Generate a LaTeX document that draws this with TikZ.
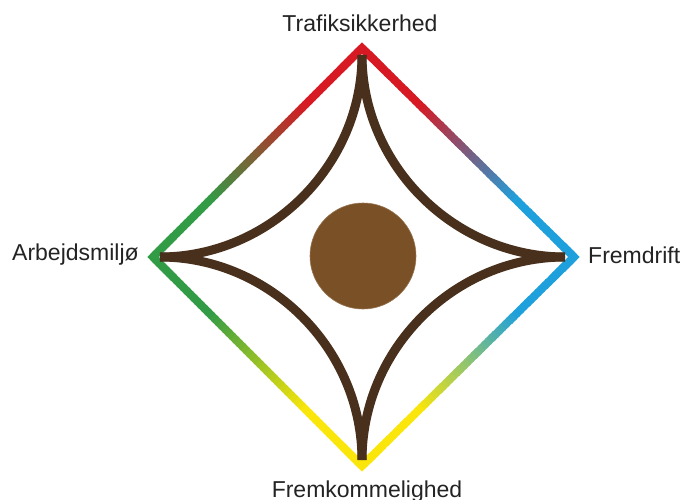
\documentclass[tikz,border=0pt]{standalone}
\usepackage{fontspec}
\setmainfont{Liberation Sans}
\usetikzlibrary{calc}
\definecolor{cred}{RGB}{215,25,35}
\definecolor{cblue}{RGB}{30,160,220}
\definecolor{cyellow}{RGB}{250,230,10}
\definecolor{cgreen}{RGB}{50,155,70}
\definecolor{cbrown}{RGB}{72,48,28}
\definecolor{cdot}{RGB}{122,80,38}
\definecolor{ctext}{RGB}{35,35,35}
\newcommand\gradEdge[4]{%
  \foreach \i in {0,...,59}{%
    \pgfmathsetmacro\ta{\i/60}%
    \pgfmathsetmacro\tb{min(1,(\i+1.4)/60)}%
    \pgfmathsetmacro\s{100*min(1,max(0,((\i+0.5)/60-0.27)/0.46))}%
    \colorlet{segc}{#4!\s!#3}%
    \draw[edgeline, segc] ($(#1)!\ta!(#2)$) -- ($(#1)!\tb!(#2)$);
  }%
}
\begin{document}
\begin{tikzpicture}[x=1pt,y=-1pt,
  lbl/.style={font=\fontsize{23}{27}\selectfont, inner sep=0pt, text=ctext},
  edgeline/.style={line width=8pt, line cap=butt},
  curveline/.style={line width=9pt, cbrown, line cap=butt}]
\useasboundingbox (0,0) rectangle (682,500);
% diamond vertices
\coordinate (T) at (362,48);
\coordinate (R) at (574,257);
\coordinate (B) at (362,466);
\coordinate (L) at (153,257);
% centre and spike tips
\coordinate (C) at (362,257);
\coordinate (sT) at (362,55);
\coordinate (sR) at (565,257);
\coordinate (sB) at (362,460);
\coordinate (sL) at (160,257);
% gradient edges
\gradEdge{T}{L}{cred}{cgreen}
\gradEdge{T}{R}{cred}{cblue}
\gradEdge{R}{B}{cblue}{cyellow}
\gradEdge{B}{L}{cyellow}{cgreen}
% sharp corners
\draw[edgeline, cred, line join=miter] ($(T)!0.1!(L)$) -- (T) -- ($(T)!0.1!(R)$);
\draw[edgeline, cblue, line join=miter] ($(R)!0.1!(T)$) -- (R) -- ($(R)!0.1!(B)$);
\draw[edgeline, cyellow, line join=miter] ($(B)!0.1!(R)$) -- (B) -- ($(B)!0.1!(L)$);
\draw[edgeline, cgreen, line join=miter] ($(L)!0.1!(B)$) -- (L) -- ($(L)!0.1!(T)$);
% inner concave star
\draw[curveline] (sT) .. controls ($(C)+(0,-92)$) and ($(C)+(-92,0)$) .. (sL);
\draw[curveline] (sL) .. controls ($(C)+(-92,0)$) and ($(C)+(0,92)$) .. (sB);
\draw[curveline] (sB) .. controls ($(C)+(0,92)$) and ($(C)+(92,0)$) .. (sR);
\draw[curveline] (sR) .. controls ($(C)+(92,0)$) and ($(C)+(0,-92)$) .. (sT);
% centre dot
\node[circle, fill=cdot, draw=cdot!80!white, line width=0.6pt, minimum size=106pt, inner sep=0pt] (dot) at (363,256) {};
% labels
\node[lbl, anchor=base] (lT) at (360,32) {Trafiksikkerhed};
\node[lbl, anchor=base west] (lL) at (12,260) {Arbejdsmiljø};
\node[lbl, anchor=base west] (lR) at (588,263) {Fremdrift};
\node[lbl, anchor=base] (lB) at (367,497) {Fremkommelighed};
\end{tikzpicture}
\end{document}
